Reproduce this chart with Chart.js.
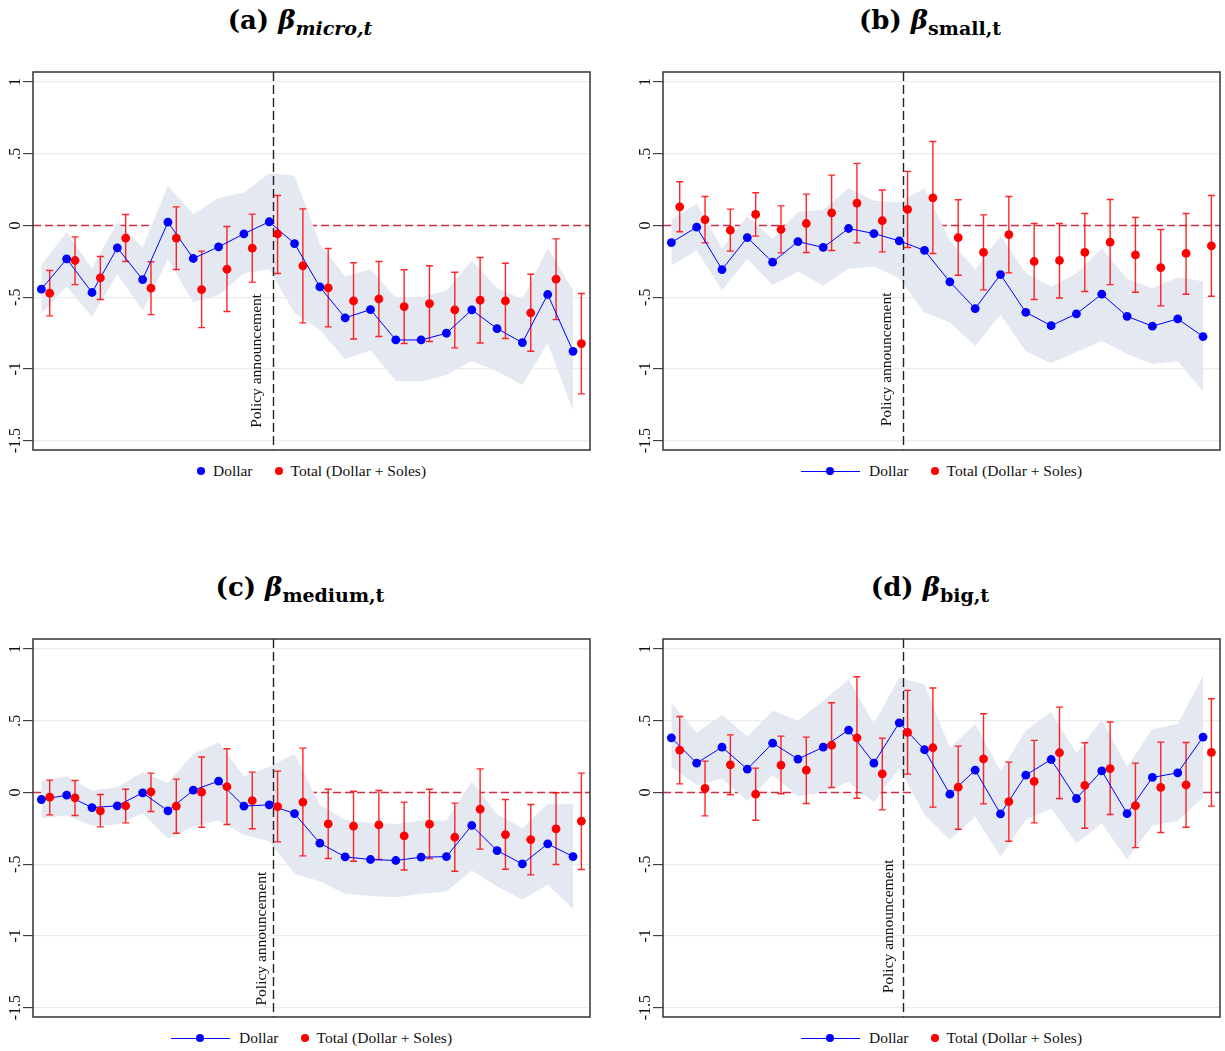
<!DOCTYPE html>
<html>
<head>
<meta charset="utf-8">
<script src="https://cdn.jsdelivr.net/npm/chart.js@4.4.1/dist/chart.umd.min.js"></script>
<style>
body { margin: 0; background: #fff; width: 1225px; height: 1051px; overflow: hidden; position: relative; font-family: "Liberation Serif", serif; }
.panel { position: absolute; width: 600px; height: 500px; }
.title { position: absolute; left: 0; top: 5px; width: 600px; text-align: center; font-family: "DejaVu Serif", serif; font-weight: bold; font-size: 26px; color: #000; }
.title sub { font-size: 19px; }
.panel canvas { position: absolute; left: 0; top: 60px; }
.legend { position: absolute; top: 461px; left: 33px; width: 557px; height: 20px; display: flex; justify-content: center; align-items: center; font-size: 15.5px; color: #111; }
.legend span.item { display: inline-flex; align-items: center; margin: 0 11px; }
.dot { display: inline-block; width: 8px; height: 8px; border-radius: 50%; margin-right: 8px; }
.lineDot { display: inline-block; position: relative; width: 59px; height: 8px; margin-right: 9px; }
.lineDot::before { content: ""; position: absolute; left: 0; right: 0; top: 3.5px; height: 1px; background: #0000ff; }
.lineDot::after { content: ""; position: absolute; left: 25.5px; top: 0; width: 8px; height: 8px; border-radius: 50%; background: #0000ff; }
</style>
</head>
<body>

<div class="panel" style="left:0;top:0">
  <div class="title">(a) <i>β</i><sub><i>micro,t</i></sub></div>
  <canvas id="chartA" width="600" height="400"></canvas>
  <div class="legend"><span class="item"><span class="dot" style="background:#0000ff"></span>Dollar</span><span class="item"><span class="dot" style="background:#ff0000"></span>Total (Dollar + Soles)</span></div>
</div>
<div class="panel" style="left:630px;top:0">
  <div class="title">(b) <i>β</i><sub>small,t</sub></div>
  <canvas id="chartB" width="595" height="400"></canvas>
  <div class="legend"><span class="item"><span class="lineDot"></span>Dollar</span><span class="item"><span class="dot" style="background:#ff0000"></span>Total (Dollar + Soles)</span></div>
</div>
<div class="panel" style="left:0;top:567px">
  <div class="title">(c) <i>β</i><sub>medium,t</sub></div>
  <canvas id="chartC" width="600" height="400"></canvas>
  <div class="legend"><span class="item"><span class="lineDot"></span>Dollar</span><span class="item"><span class="dot" style="background:#ff0000"></span>Total (Dollar + Soles)</span></div>
</div>
<div class="panel" style="left:630px;top:567px">
  <div class="title">(d) <i>β</i><sub>big,t</sub></div>
  <canvas id="chartD" width="595" height="400"></canvas>
  <div class="legend"><span class="item"><span class="lineDot"></span>Dollar</span><span class="item"><span class="dot" style="background:#ff0000"></span>Total (Dollar + Soles)</span></div>
</div>

<script>
// periods (x positions), red series is drawn slightly to the right
const periods = [0, 1, 2, 3, 4, 5, 6, 7, 8, 9, 10, 11, 12, 13, 14, 15, 16, 17, 18, 19, 20, 21];
const policyPeriod = 9.15;
const yTicks = [1, 0.5, 0, -0.5, -1, -1.5];

// (a) micro
const microDollar = [-0.444, -0.233, -0.467, -0.156, -0.377, 0.023, -0.230, -0.149, -0.058, 0.026, -0.126, -0.428, -0.644, -0.586, -0.798, -0.798, -0.751, -0.588, -0.719, -0.816, -0.481, -0.877];
const microDollarLo = [-0.616, -0.426, -0.635, -0.340, -0.595, -0.235, -0.537, -0.484, -0.333, -0.305, -0.612, -0.728, -0.933, -0.872, -1.084, -1.088, -1.042, -0.944, -1.016, -1.112, -0.821, -1.291];
const microDollarHi = [-0.274, -0.047, -0.298, 0.023, -0.153, 0.277, 0.081, 0.191, 0.230, 0.363, 0.349, -0.128, -0.356, -0.305, -0.505, -0.500, -0.453, -0.244, -0.435, -0.514, -0.158, -0.449];
const microTotal = [-0.472, -0.244, -0.365, -0.088, -0.437, -0.088, -0.447, -0.305, -0.158, -0.058, -0.281, -0.435, -0.526, -0.512, -0.565, -0.544, -0.588, -0.521, -0.526, -0.609, -0.374, -0.823];
const microTotalLo = [-0.630, -0.412, -0.516, -0.251, -0.621, -0.307, -0.712, -0.600, -0.395, -0.335, -0.679, -0.707, -0.791, -0.774, -0.823, -0.809, -0.853, -0.819, -0.788, -0.877, -0.656, -1.174];
const microTotalHi = [-0.314, -0.079, -0.216, 0.077, -0.253, 0.130, -0.179, -0.007, 0.079, 0.209, 0.116, -0.160, -0.260, -0.251, -0.309, -0.281, -0.326, -0.223, -0.263, -0.340, -0.093, -0.474];

// (b) small
const smallDollar = [-0.119, -0.012, -0.307, -0.084, -0.256, -0.112, -0.153, -0.021, -0.056, -0.107, -0.174, -0.393, -0.579, -0.342, -0.605, -0.698, -0.616, -0.479, -0.633, -0.702, -0.651, -0.774];
const smallDollarLo = [-0.279, -0.174, -0.449, -0.233, -0.414, -0.323, -0.419, -0.302, -0.286, -0.367, -0.608, -0.674, -0.840, -0.623, -0.877, -0.960, -0.881, -0.805, -0.895, -0.965, -0.944, -1.158];
const smallDollarHi = [0.040, 0.151, -0.158, 0.065, -0.093, 0.095, 0.109, 0.260, 0.172, 0.160, 0.260, -0.107, -0.307, -0.072, -0.333, -0.426, -0.335, -0.158, -0.372, -0.437, -0.360, -0.388];
const smallTotal = [0.130, 0.040, -0.033, 0.077, -0.028, 0.014, 0.088, 0.156, 0.033, 0.112, 0.193, -0.084, -0.188, -0.063, -0.251, -0.244, -0.188, -0.116, -0.205, -0.293, -0.195, -0.142];
const smallTotalLo = [-0.044, -0.121, -0.179, -0.074, -0.191, -0.188, -0.174, -0.121, -0.184, -0.153, -0.195, -0.347, -0.449, -0.330, -0.516, -0.505, -0.460, -0.412, -0.465, -0.560, -0.479, -0.493];
const smallTotalHi = [0.305, 0.202, 0.114, 0.228, 0.137, 0.219, 0.351, 0.433, 0.247, 0.377, 0.586, 0.179, 0.074, 0.202, 0.014, 0.014, 0.084, 0.181, 0.056, -0.028, 0.084, 0.209];

// (c) medium
const mediumDollar = [-0.049, -0.019, -0.105, -0.093, -0.002, -0.128, 0.016, 0.079, -0.095, -0.086, -0.147, -0.353, -0.449, -0.467, -0.474, -0.451, -0.447, -0.230, -0.405, -0.498, -0.358, -0.447];
const mediumDollarLo = [-0.179, -0.160, -0.230, -0.223, -0.144, -0.323, -0.237, -0.195, -0.295, -0.340, -0.567, -0.619, -0.707, -0.721, -0.730, -0.707, -0.691, -0.544, -0.656, -0.747, -0.642, -0.812];
const mediumDollarHi = [0.079, 0.114, 0.014, 0.037, 0.142, 0.067, 0.270, 0.351, 0.114, 0.177, 0.270, -0.086, -0.191, -0.212, -0.219, -0.195, -0.195, 0.077, -0.151, -0.247, -0.079, -0.079];
const mediumTotal = [-0.033, -0.037, -0.128, -0.093, 0.005, -0.095, 0.002, 0.040, -0.056, -0.098, -0.067, -0.219, -0.235, -0.226, -0.302, -0.221, -0.312, -0.116, -0.293, -0.328, -0.253, -0.200];
const mediumTotalLo = [-0.156, -0.160, -0.240, -0.212, -0.133, -0.284, -0.242, -0.223, -0.253, -0.344, -0.442, -0.460, -0.479, -0.467, -0.540, -0.460, -0.549, -0.395, -0.535, -0.574, -0.502, -0.537];
const mediumTotalHi = [0.086, 0.084, -0.014, 0.023, 0.135, 0.093, 0.247, 0.305, 0.142, 0.149, 0.309, 0.023, 0.009, 0.014, -0.067, 0.023, -0.074, 0.165, -0.049, -0.084, -0.002, 0.135];

// (d) big
const bigDollar = [0.381, 0.205, 0.316, 0.163, 0.344, 0.233, 0.316, 0.435, 0.205, 0.486, 0.298, -0.012, 0.156, -0.149, 0.121, 0.230, -0.042, 0.151, -0.147, 0.105, 0.137, 0.386];
const bigDollarLo = [0.177, 0.053, 0.095, -0.060, 0.123, -0.028, 0.009, 0.072, -0.070, 0.170, -0.156, -0.330, -0.167, -0.447, -0.191, -0.112, -0.353, -0.216, -0.465, -0.230, -0.200, -0.033];
const bigDollarHi = [0.623, 0.416, 0.542, 0.391, 0.570, 0.502, 0.642, 0.788, 0.479, 0.802, 0.753, 0.312, 0.477, 0.149, 0.433, 0.563, 0.274, 0.509, 0.177, 0.442, 0.477, 0.814];
const bigTotal = [0.295, 0.028, 0.193, -0.012, 0.191, 0.156, 0.330, 0.381, 0.130, 0.419, 0.312, 0.037, 0.235, -0.063, 0.077, 0.277, 0.049, 0.167, -0.091, 0.035, 0.053, 0.279];
const bigTotalLo = [0.060, -0.163, -0.016, -0.193, -0.009, -0.077, 0.035, -0.040, -0.121, 0.128, -0.102, -0.256, -0.079, -0.340, -0.212, -0.042, -0.249, -0.153, -0.384, -0.279, -0.242, -0.095];
const bigTotalHi = [0.530, 0.219, 0.402, 0.170, 0.393, 0.386, 0.626, 0.807, 0.379, 0.712, 0.728, 0.323, 0.549, 0.212, 0.363, 0.595, 0.347, 0.491, 0.205, 0.351, 0.349, 0.653];

const redShift = 0.33;
const bandColor = "#e4e8f1";

function fmtTick(v) {
    if (v === 0) return "0";
    return (v < 0 ? "-" : "") + String(Math.abs(v)).replace(/^0/, "");
}

// zero line, policy line, error bars, frame and rotated labels
const decor = {
    id: "decor",
    beforeDatasetsDraw(chart) {
        const { ctx, chartArea: a, scales: { y } } = chart;
        const y0 = y.getPixelForValue(0);
        ctx.save();
        ctx.strokeStyle = "#c8304e";
        ctx.lineWidth = 1.6;
        ctx.setLineDash([8, 4]);
        ctx.beginPath();
        ctx.moveTo(a.left, y0);
        ctx.lineTo(a.right, y0);
        ctx.stroke();
        ctx.restore();
    },
    afterDatasetDraw(chart, args, opts) {
        if (args.index !== 3) return;
        const { ctx, chartArea: a, scales: { x, y } } = chart;
        // policy announcement line
        const px = Math.round(x.getPixelForValue(policyPeriod)) + 0.5;
        ctx.save();
        ctx.strokeStyle = "#222";
        ctx.lineWidth = 1.4;
        ctx.setLineDash([9, 4]);
        ctx.beginPath();
        ctx.moveTo(px, a.top);
        ctx.lineTo(px, a.bottom);
        ctx.stroke();
        ctx.setLineDash([]);
        // error bars of the total series
        ctx.strokeStyle = "rgba(255,0,0,0.85)";
        ctx.lineWidth = 1.4;
        opts.lo.forEach((lo, i) => {
            const ex = x.getPixelForValue(periods[i] + redShift);
            const yl = y.getPixelForValue(lo);
            const yh = y.getPixelForValue(opts.hi[i]);
            ctx.beginPath();
            ctx.moveTo(ex, yl); ctx.lineTo(ex, yh);
            ctx.moveTo(ex - 3.5, yl); ctx.lineTo(ex + 3.5, yl);
            ctx.moveTo(ex - 3.5, yh); ctx.lineTo(ex + 3.5, yh);
            ctx.stroke();
        });
        ctx.restore();
    },
    afterDraw(chart, args, opts) {
        const { ctx, chartArea: a, scales: { x, y } } = chart;
        ctx.save();
        ctx.strokeStyle = "#333";
        ctx.lineWidth = 1.5;
        ctx.strokeRect(a.left, a.top, a.right - a.left, a.bottom - a.top);
        ctx.fillStyle = "#111";
        ctx.font = "16px 'Liberation Serif', serif";
        ctx.textAlign = "center";
        ctx.textBaseline = "alphabetic";
        y.ticks.forEach(t => {
            ctx.save();
            ctx.translate(20, y.getPixelForValue(t.value));
            ctx.rotate(-Math.PI / 2);
            ctx.fillText(fmtTick(t.value), 0, 0);
            ctx.restore();
        });
        // policy announcement label
        ctx.font = "15.5px 'Liberation Serif', serif";
        ctx.save();
        ctx.translate(x.getPixelForValue(policyPeriod) + opts.labelDx, y.getPixelForValue(opts.labelY));
        ctx.rotate(-Math.PI / 2);
        ctx.textAlign = "left";
        ctx.fillText("Policy announcement", 0, 0);
        ctx.restore();
        ctx.restore();
    }
};

function makePanel(id, dollar, dollarLo, dollarHi, total, totalLo, totalHi, padRight, labelDx, labelY) {
    const ctx = document.getElementById(id).getContext("2d");
    return new Chart(ctx, {
        type: "line",
        data: {
            datasets: [{
                label: "Dollar",
                data: periods.map((p, i) => ({ x: p, y: dollar[i] })),
                borderColor: "#0000ff",
                backgroundColor: "#0000ff",
                borderWidth: 1,
                pointRadius: 4.4,
                pointBorderWidth: 0,
                tension: 0,
                order: 1
            }, {
                label: "Total (Dollar + Soles)",
                data: periods.map((p, i) => ({ x: p + redShift, y: total[i] })),
                showLine: false,
                borderColor: "#ff0000",
                backgroundColor: "#ff0000",
                pointRadius: 4.4,
                pointBorderWidth: 0,
                order: 0
            }, {
                label: "lo",
                data: periods.map((p, i) => ({ x: p, y: dollarLo[i] })),
                borderWidth: 0,
                pointRadius: 0,
                fill: false,
                order: 4
            }, {
                label: "hi",
                data: periods.map((p, i) => ({ x: p, y: dollarHi[i] })),
                borderWidth: 0,
                pointRadius: 0,
                backgroundColor: bandColor,
                fill: "-1",
                order: 3
            }]
        },
        options: {
            responsive: false,
            animation: false,
            layout: { padding: { left: 0, right: padRight, top: 12, bottom: 10 } },
            plugins: {
                legend: { display: false },
                tooltip: { enabled: false },
                decor: { lo: totalLo, hi: totalHi, labelDx: labelDx, labelY: labelY }
            },
            scales: {
                x: {
                    type: "linear",
                    display: false,
                    min: -0.33,
                    max: 21.67
                },
                y: {
                    min: -1.565,
                    max: 1.07,
                    afterBuildTicks: scale => { scale.ticks = yTicks.map(v => ({ value: v })); },
                    afterFit: scale => { scale.width = 33; },
                    ticks: { display: false },
                    border: { display: false },
                    grid: {
                        color: "#ebebeb",
                        lineWidth: 1.3,
                        drawTicks: true,
                        tickLength: 10,
                        tickColor: "#222",
                        tickWidth: 1
                    }
                }
            }
        },
        plugins: [decor]
    });
}

makePanel("chartA", microDollar, microDollarLo, microDollarHi, microTotal, microTotalLo, microTotalHi, 10, -12, -1.41);
makePanel("chartB", smallDollar, smallDollarLo, smallDollarHi, smallTotal, smallTotalLo, smallTotalHi, 5, -12, -1.40);
makePanel("chartC", mediumDollar, mediumDollarLo, mediumDollarHi, mediumTotal, mediumTotalLo, mediumTotalHi, 10, -7, -1.485);
makePanel("chartD", bigDollar, bigDollarLo, bigDollarHi, bigTotal, bigTotalLo, bigTotalHi, 5, -10, -1.40);
</script>
</body>
</html>
